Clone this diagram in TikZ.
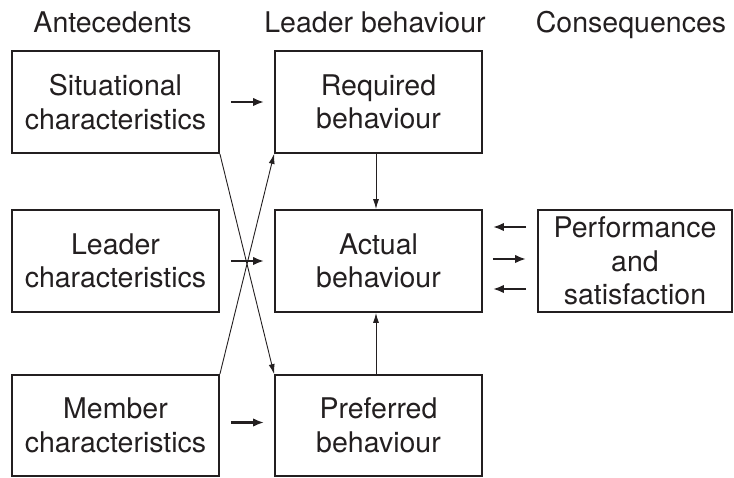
\documentclass[tikz,border=0pt]{standalone}
\usepackage{fontspec}
\setmainfont{TeX Gyre Heros}
\usetikzlibrary{arrows.meta}
\definecolor{ink}{RGB}{35,31,32}
\begin{document}
\begin{tikzpicture}[x=1pt,y=-1pt,
  font=\fontsize{28.5}{33.5}\selectfont,
  every node/.style={text=ink},
  box/.style={draw=ink,line width=1.8pt,rectangle,inner sep=0pt,
    minimum width=207pt,minimum height=102pt,align=center},
  head/.style={inner sep=0pt,anchor=base},
  thickarr/.style={draw=ink,line width=2.3pt,-{Latex[length=11pt,width=8.5pt]}},
  thinarr/.style={draw=ink,line width=0.9pt,-{Latex[length=10pt,width=6pt]}}]
\useasboundingbox (0,0) rectangle (734,478);
% headers
\node[head] (h1) at (112.5,33) {Antecedents};
\node[head] (h2) at (375,33) {Leader behaviour};
\node[head] (h3) at (631,33) {Consequences};
% boxes
\node[box] (sit) at (115.5,102) {Situational\\characteristics};
\node[box] (req) at (378.5,102) {Required\\behaviour};
\node[box] (lea) at (115.5,261) {Leader\\characteristics};
\node[box] (act) at (378.5,261) {Actual\\behaviour};
\node[box,minimum width=194pt] (per) at (635,261) {Performance\\and\\satisfaction};
\node[box,minimum height=101pt] (mem) at (115.5,425.5) {Member\\characteristics};
\node[box,minimum height=101pt] (pref) at (378.5,425.5) {Preferred\\behaviour};
% short horizontal arrows
\draw[thickarr] ([xshift=11pt]sit.east) -- ([xshift=-10pt]req.west);
\draw[thickarr] ([xshift=11pt]lea.east) -- ([xshift=-10pt]act.west);
\draw[thickarr] ([xshift=11pt,yshift=3pt]mem.east) -- ([xshift=-10pt,yshift=3pt]pref.west);
\draw[thickarr] ([xshift=-11pt,yshift=-28pt]per.west) -- ([xshift=10pt,yshift=-28pt]act.east);
\draw[thickarr] ([xshift=10pt,yshift=2pt]act.east) -- ([xshift=-11pt,yshift=2pt]per.west);
\draw[thickarr] ([xshift=-11pt,yshift=34pt]per.west) -- ([xshift=10pt,yshift=34pt]act.east);
% vertical arrows
\draw[thinarr] ([xshift=-2.5pt]req.south) -- ([xshift=-2.5pt]act.north);
\draw[thinarr] ([xshift=-2.5pt]pref.north) -- ([xshift=-2.5pt]act.south);
% diagonal arrows
\draw[thinarr] (sit.south east) -- (pref.north west);
\draw[thinarr] (mem.north east) -- (req.south west);
\end{tikzpicture}
\end{document}
